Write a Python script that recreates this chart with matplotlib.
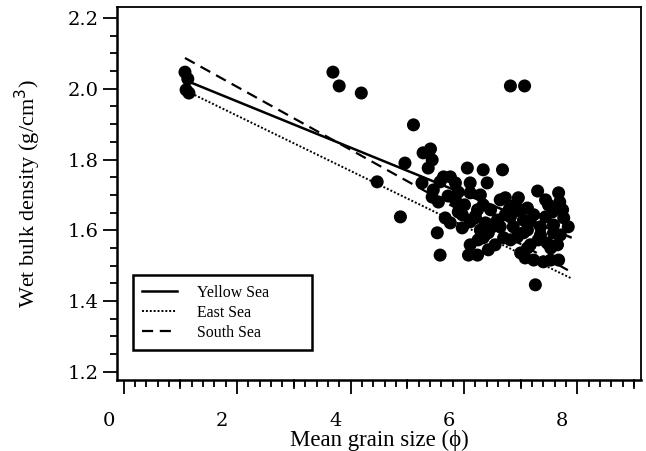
import numpy as np
import matplotlib
matplotlib.use('Agg')
import matplotlib.pyplot as plt
from matplotlib.ticker import MultipleLocator
from matplotlib.transforms import ScaledTranslation

plt.rcParams['font.family'] = ['Liberation Serif', 'DejaVu Serif']

# mean grain size (phi) and wet bulk density (g/cm3) of the cores
grain = [1.08, 1.13, 1.10, 1.15,
         3.69, 3.80, 4.19, 6.82, 7.07, 5.11, 4.47, 4.96, 4.88,
         5.28, 5.41, 5.44, 5.37, 6.06, 6.34, 6.68, 5.76, 5.58, 5.46, 5.44, 5.55,
         5.85, 5.90, 6.11, 6.11, 6.41, 6.29, 6.34, 6.24, 6.47, 6.64, 6.73, 6.96,
         7.00, 6.82, 6.59, 6.38, 6.29, 6.43, 6.64, 6.87, 7.05, 7.12, 6.94, 6.25,
         5.67, 5.76, 5.53, 5.58, 6.08, 6.24, 6.70, 7.30, 7.67, 7.69, 7.12, 7.49,
         7.74, 7.23, 7.44, 7.76, 7.84, 7.35, 7.05, 7.58, 7.17, 7.47, 7.65, 7.35,
         7.23, 7.40, 7.53, 7.67, 7.26, 7.58, 7.00, 7.12,
         6.01, 5.90, 6.11, 5.97, 6.55, 6.43, 5.72, 5.26, 5.64, 6.20, 6.50, 6.80,
         5.85, 5.97, 6.20, 6.47, 6.73, 6.91, 7.17, 7.31, 7.53, 7.70, 7.44, 7.56,
         6.11, 6.34, 6.82, 7.08]
density = [2.047, 2.028, 1.997, 1.988,
           2.047, 2.008, 1.988, 2.008, 2.008, 1.898, 1.737, 1.790, 1.638,
           1.819, 1.830, 1.799, 1.776, 1.776, 1.771, 1.771, 1.751, 1.737, 1.714, 1.694, 1.680,
           1.734, 1.708, 1.734, 1.706, 1.734, 1.700, 1.672, 1.658, 1.658, 1.686, 1.692, 1.692,
           1.658, 1.638, 1.629, 1.621, 1.601, 1.593, 1.610, 1.610, 1.629, 1.601, 1.581, 1.573,
           1.635, 1.621, 1.593, 1.530, 1.530, 1.530, 1.579, 1.711, 1.706, 1.680, 1.663, 1.672,
           1.658, 1.644, 1.638, 1.635, 1.610, 1.610, 1.593, 1.615, 1.559, 1.564, 1.559, 1.587,
           1.516, 1.511, 1.516, 1.516, 1.446, 1.593, 1.536, 1.550,
           1.672, 1.652, 1.624, 1.607, 1.559, 1.545, 1.697, 1.734, 1.751, 1.640, 1.610, 1.660,
           1.686, 1.644, 1.635, 1.615, 1.644, 1.672, 1.624, 1.573, 1.550, 1.587, 1.686, 1.652,
           1.559, 1.579, 1.573, 1.522]

# regression lines: intercept, slope, x range
seas = ['Yellow Sea', 'East Sea', 'South Sea']
intercepts = [2.095, 2.080, 2.183]
slopes = [-0.0653, -0.078, -0.0888]
x_start = [1.17, 1.25, 1.08]
x_end = [7.88, 7.88, 7.88]
styles = ['-', (0, (1, 1)), (0, (5, 3))]
widths = [1.8, 1.4, 1.6]

fig = plt.figure(figsize=(6.46, 4.51), dpi=100)
ax = fig.add_axes([0.181, 0.1574, 0.811, 0.827])

ax.scatter(grain, density, s=88, c='black', edgecolors='none', zorder=3)

for name, a, b, x0, x1, ls, lw in zip(seas, intercepts, slopes, x_start, x_end, styles, widths):
    xs = np.array([x0, x1])
    ax.plot(xs, a + b * xs, color='black', linestyle=ls, linewidth=lw, label=name, zorder=4)

ax.set_xlim(-0.12, 9.12)
ax.set_ylim(1.177, 2.231)

ax.xaxis.set_major_locator(MultipleLocator(2))
ax.xaxis.set_minor_locator(MultipleLocator(0.2))
ax.yaxis.set_major_locator(MultipleLocator(0.2))
ax.yaxis.set_minor_locator(MultipleLocator(0.05))
ax.yaxis.set_major_formatter(plt.FuncFormatter(lambda v, p: '%.1f' % v))

ax.tick_params(axis='both', which='major', direction='out', length=10, width=1.3,
               labelsize=14, colors='black')
ax.tick_params(axis='both', which='minor', direction='out', length=5, width=1.3)
ax.tick_params(axis='x', which='major', pad=13)
ax.tick_params(axis='y', which='major', pad=3)
ax.tick_params(top=False, right=False, which='both')
for lab in ax.get_xticklabels() + ax.get_yticklabels():
    lab.set_fontfamily('DejaVu Serif')

# x tick labels sit a little left of their ticks
shift = ScaledTranslation(-15 / 100, 0, fig.dpi_scale_trans)
for lab in ax.get_xticklabels():
    lab.set_transform(lab.get_transform() + shift)

# odd whole numbers get a slightly longer tick than the 0.2 steps
for xv in [1, 3, 5, 7, 9]:
    ax.plot([xv, xv], [0, -0.022], transform=ax.get_xaxis_transform(),
            color='black', linewidth=1.3, clip_on=False)

for side in ['left', 'bottom']:
    ax.spines[side].set_linewidth(1.8)
for side in ['top', 'right']:
    ax.spines[side].set_linewidth(1.3)

ax.set_xlabel('Mean grain size (\u03d5)', fontsize=16.5, labelpad=0)
ax.set_ylabel('Wet bulk density (g/cm$^3$)', fontsize=16, labelpad=18)

leg = ax.legend(loc='upper left', bbox_to_anchor=(0.0305, 0.075, 0.342, 0.206),
                mode='expand', borderaxespad=0, fontsize=11.4, handlelength=2.2,
                handletextpad=1.25, labelspacing=0.25, borderpad=0.6, fancybox=False,
                framealpha=1, edgecolor='black')
leg.get_frame().set_linewidth(1.8)

fig.savefig('out.png', dpi=100)
